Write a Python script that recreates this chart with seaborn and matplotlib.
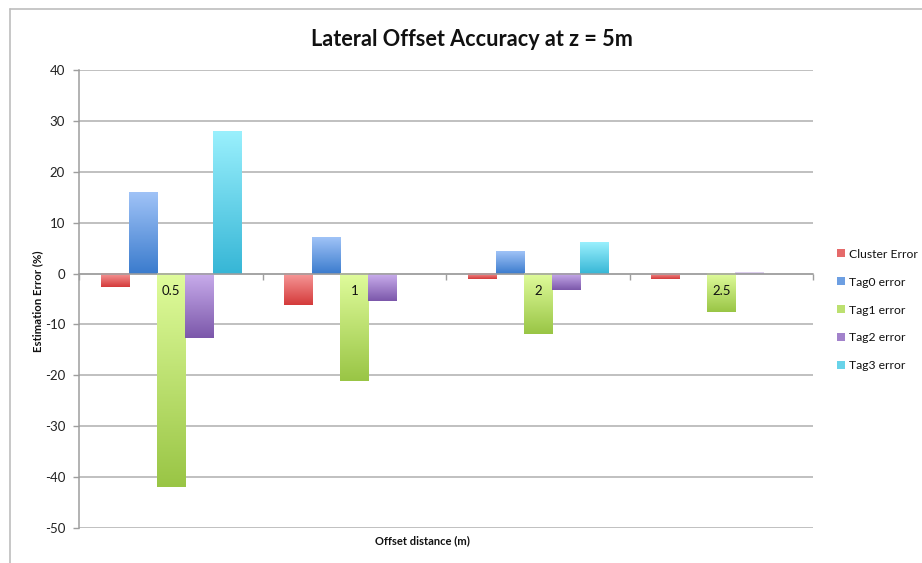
import numpy as np
import pandas as pd
import matplotlib
matplotlib.use("Agg")
import matplotlib.pyplot as plt
from matplotlib.colors import LinearSegmentedColormap, to_rgb
from matplotlib.lines import Line2D
from matplotlib.patches import Patch
import seaborn as sns

# ---- data -------------------------------------------------------------
categories = ["0.5", "1", "2", "2.5"]
series_names = ["Cluster Error", "Tag0 error", "Tag1 error", "Tag2 error", "Tag3 error"]
cluster_error = [-2.7, -6.2, -1.0, -1.1]
tag0_error = [16.0, 7.1, 4.5, np.nan]
tag1_error = [-42.0, -21.1, -11.8, -7.6]
tag2_error = [-12.7, -5.3, -3.2, 0.2]
tag3_error = [28.1, np.nan, 6.2, np.nan]
y_ticks = [40, 30, 20, 10, 0, -10, -20, -30, -40, -50]

# light (top) / dark (bottom) colours of each series' bar gradient
gradients = {
    "Cluster Error": ("#F79A9A", "#D43A3A"),
    "Tag0 error": ("#A0C3F7", "#3A7BCD"),
    "Tag1 error": ("#E0FC9C", "#99C545"),
    "Tag2 error": ("#C9ADEC", "#7B57AA"),
    "Tag3 error": ("#9AF0FD", "#36B6D6"),
}

values = [cluster_error, tag0_error, tag1_error, tag2_error, tag3_error]
df = pd.DataFrame({
    "offset": np.repeat([categories], len(series_names), axis=0).ravel(),
    "series": np.repeat(series_names, len(categories)),
    "error": np.concatenate(values),
})

sns.set_theme(style="white")
plt.rcParams["font.family"] = ["Lato", "DejaVu Sans"]

W, H = 922, 563
fig = plt.figure(figsize=(W / 100, H / 100), dpi=100)
ax = fig.add_axes([79 / W, 1 - 528 / H, (813 - 79) / W, (528 - 70) / H])

mid_colors = [sns.blend_palette(gradients[s], 3)[1] for s in series_names]
sns.barplot(data=df, x="offset", y="error", hue="series", order=categories,
            hue_order=series_names, palette=mid_colors, width=0.763, gap=0,
            linewidth=0, legend=False, ax=ax, zorder=2)

# replace flat fills with vertical gradients (light top, dark bottom)
grad = np.linspace(0, 1, 256).reshape(-1, 1)
for container, name in zip(ax.containers, series_names):
    cmap = LinearSegmentedColormap.from_list(name, [to_rgb(gradients[name][0]),
                                                    to_rgb(gradients[name][1])])
    for bar in container:
        x0, y0 = bar.get_x(), bar.get_y()
        w, h = bar.get_width(), bar.get_height()
        if not np.isfinite(h) or h == 0:
            continue
        bottom, top = min(y0, y0 + h), max(y0, y0 + h)
        bar.set_facecolor("none")
        # hairline bars come out washed out
        ax.imshow(grad, cmap=cmap, aspect="auto", origin="upper",
                  extent=[x0, x0 + w, bottom, top], zorder=2,
                  interpolation="bilinear", alpha=1.0 if abs(h) > 0.5 else 0.45)

ax.set_xlim(-0.5, len(categories) - 0.5)
ax.set_ylim(-50, 40)
ax.set_yticks(y_ticks)
ax.set_yticklabels([str(t) for t in y_ticks])

# horizontal gridlines
ax.set_axisbelow(True)
ax.yaxis.grid(True, color="#AFAFAF", linewidth=1.1)
ax.xaxis.grid(False)

# category axis sits on the zero line
for s in ["top", "right"]:
    ax.spines[s].set_visible(False)
ax.spines["left"].set_color("#9E9E9E")
ax.spines["left"].set_linewidth(1.1)
ax.spines["bottom"].set_position(("data", 0))
ax.spines["bottom"].set_color("#9E9E9E")
ax.spines["bottom"].set_linewidth(1.1)
ax.spines["bottom"].set_zorder(3)
ax.set_xticks(np.arange(-0.5, len(categories)), minor=True)
ax.set_xticks([])
ax.tick_params(axis="x", which="minor", direction="out", length=4,
               width=1, color="#9E9E9E", bottom=True)
ax.tick_params(axis="y", which="major", direction="out", length=4,
               width=1, color="#9E9E9E", left=True, labelsize=9.5,
               labelcolor="#222222", pad=6)

for i, c in enumerate(categories):
    ax.annotate(c, xy=(i, 0), xytext=(0, -17), textcoords="offset pixels",
                ha="center", va="center", fontsize=9.5, color="#111111",
                zorder=5)

ax.set_xlabel("")
ax.set_ylabel("")
fig.text(38 / W, 1 - 301 / H, "Estimation Error (%)", rotation=90,
         ha="center", va="center", fontsize=8.2, fontweight="bold",
         color="#111111")
fig.text(422 / W, 1 - 541 / H, "Offset distance (m)", ha="center",
         va="center", fontsize=8.0, fontweight="bold", color="#111111")
fig.text(472 / W, 1 - 39 / H, "Lateral Offset Accuracy at z = 5m",
         ha="center", va="center", fontsize=15.6, fontweight="bold",
         color="#111111")

handles = [Patch(facecolor=mid_colors[i], edgecolor="none") for i in range(len(series_names))]
fig.legend(handles, series_names, loc="center left",
           bbox_to_anchor=(832 / W, 1 - 310 / H), frameon=False,
           fontsize=8.7, handlelength=0.65, handleheight=0.65,
           handletextpad=0.35, labelspacing=1.4, borderaxespad=0,
           labelcolor="#111111")

# outer chart frame (left and top edges)
frame_kw = dict(color="#BDBDBD", linewidth=1.2, transform=fig.transFigure)
fig.add_artist(Line2D([10 / W, 10 / W], [1 - 9 / H, 0], **frame_kw))
fig.add_artist(Line2D([10 / W, 1], [1 - 9 / H, 1 - 9 / H], **frame_kw))

fig.savefig("out.png", dpi=100)
